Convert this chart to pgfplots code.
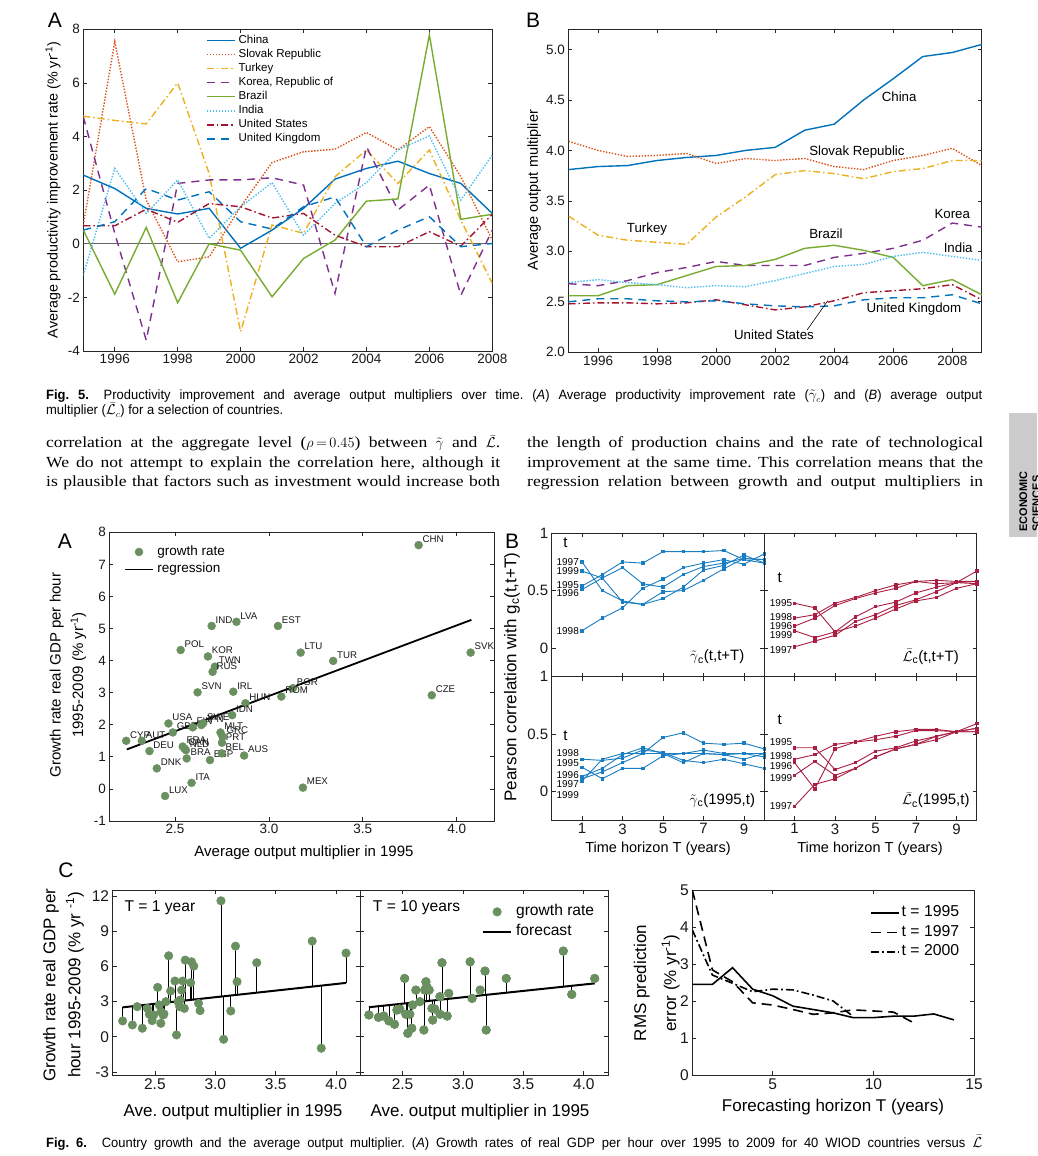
\documentclass[border=0pt]{standalone}
\usepackage{fontspec}
\setmainfont{Liberation Sans}
\newfontfamily\seriffont[FakeStretch=1.14]{Liberation Serif}
\newfontfamily\capfont[FakeStretch=0.96]{Liberation Sans}
\usepackage{pgfplots}
\usepackage{pgfplotstable}
\pgfplotsset{compat=1.18}
\newcommand\fs[1]{\fontsize{#1}{#1}\selectfont}
\definecolor{cBlue}{RGB}{0,114,189}
\definecolor{cOrange}{RGB}{217,83,25}
\definecolor{cYellow}{RGB}{237,177,32}
\definecolor{cPurple}{RGB}{126,47,142}
\definecolor{cGreen}{RGB}{119,172,48}
\definecolor{cCyan}{RGB}{77,190,238}
\definecolor{cRed}{RGB}{162,20,47}
\definecolor{gmark}{RGB}{106,143,96}
\definecolor{bB}{RGB}{25,125,195}
\definecolor{rR}{RGB}{170,30,65}
\definecolor{sidegray}{RGB}{204,204,204}

\pgfplotsset{
  base/.style={scale only axis, anchor=north west,
    axis line style={black!85,line width=0.8pt},
    every tick/.style={black!85,line width=0.7pt},
    major tick length=4pt, minor tick length=0pt,
    tick label style={font=\fs{13.5}, text=black!90},
    /pgf/number format/assume math mode=true,
    /pgf/number format/1000 sep={}},
  limg/.style={legend image code/.code={\draw[##1] (0pt,0pt) -- (28pt,0pt);}},
  mimg/.style={legend image code/.code={\draw[##1] plot coordinates {(14pt,0pt)};}},
  sChina/.style={cBlue, solid},
  sSlovak/.style={cOrange, dash pattern=on 1.4pt off 1.6pt},
  sTurkey/.style={cYellow, dash pattern=on 7pt off 3pt on 1.5pt off 3pt},
  sKorea/.style={cPurple, dash pattern=on 8pt off 6pt},
  sBrazil/.style={cGreen, solid},
  sIndia/.style={cCyan, dash pattern=on 1.4pt off 1.6pt},
  sUS/.style={cRed, dash pattern=on 7pt off 3pt on 1.5pt off 3pt},
  sUK/.style={cBlue, dash pattern=on 8pt off 6pt},
  pB/.style={base, width=212.5pt, height=143.3pt, xmin=-0.5, xmax=10,
    ymin=-0.25, ymax=1, xtick={1,3,5,7,9}, ytick={0,0.5,1},
    tick label style={font=\fs{15}},
    every axis plot/.append style={line width=0.9pt, mark=square*, mark size=1.25pt, mark options={solid}}},
}

\pgfplotstableread{
yr China Slovak Turkey Korea Brazil India US UK
1995 2.56 0.70 4.76 4.74 0.51 -1.17 0.67 0.51
1996 2.06 7.54 4.60 0.39 -1.88 2.81 0.67 0.82
1997 1.32 1.63 4.47 -3.60 0.61 1.13 1.29 2.06
1998 1.11 -0.67 6.00 2.25 -2.20 2.38 0.80 1.63
1999 1.32 -0.49 2.62 2.38 0.00 0.20 1.50 1.94
2000 -0.17 1.38 -3.28 2.38 -0.24 1.38 1.38 0.82
2001 0.51 3.03 0.70 2.46 -1.98 2.28 0.96 0.55
2002 1.32 3.43 0.39 2.19 -0.55 0.32 1.13 1.38
2003 2.41 3.53 2.50 -1.85 0.14 1.50 0.32 1.75
2004 2.81 4.15 3.50 3.62 1.59 2.28 -0.11 -0.11
2005 3.08 3.50 2.25 1.26 1.67 3.50 -0.11 0.51
2006 2.62 4.37 3.50 2.19 7.79 4.02 0.45 1.01
2007 2.25 2.50 0.88 -1.92 0.91 1.63 -0.09 -0.11
2008 1.13 0.14 -1.48 0.51 1.10 3.31 1.10 0.01
}\fiveA

\pgfplotstableread{
yr China Slovak Turkey Korea Brazil India US UK
1995 3.81 4.09 3.35 2.68 2.56 2.69 2.48 2.50
1996 3.84 4.00 3.16 2.66 2.56 2.72 2.49 2.53
1997 3.85 3.94 3.11 2.71 2.66 2.69 2.49 2.53
1998 3.90 3.95 3.09 2.79 2.67 2.67 2.48 2.51
1999 3.93 3.97 3.07 2.84 2.76 2.64 2.49 2.50
2000 3.95 3.87 3.34 2.90 2.85 2.66 2.52 2.51
2001 4.00 3.92 3.54 2.86 2.86 2.65 2.47 2.48
2002 4.03 3.90 3.76 2.86 2.92 2.71 2.42 2.46
2003 4.20 3.92 3.80 2.86 3.03 2.78 2.45 2.45
2004 4.26 3.84 3.77 2.94 3.06 2.85 2.51 2.46
2005 4.50 3.81 3.72 2.98 3.01 2.87 2.59 2.52
2006 4.71 3.90 3.79 3.03 2.94 2.95 2.61 2.54
2007 4.93 3.95 3.82 3.11 2.66 2.99 2.63 2.54
2008 4.97 4.02 3.90 3.28 2.72 2.95 2.67 2.57
2009 5.05 3.85 3.90 3.24 2.57 2.91 2.52 2.48
}\fiveB

\pgfplotstableread{
x y lab
3.797 7.60 CHN
2.695 5.08 IND
2.827 5.21 LVA
3.048 5.08 EST
2.530 4.33 POL
2.675 4.13 KOR
2.712 3.81 TWN
2.700 3.65 RUS
3.169 4.25 LTU
3.342 3.99 TUR
4.074 4.25 SVK
2.620 3.01 SVN
2.810 3.03 IRL
3.128 3.14 BGR
3.066 2.88 ROM
3.867 2.92 CZE
2.875 2.67 HUN
2.804 2.30 IDN
2.465 2.04 USA
2.488 1.76 GBR
2.594 1.92 FIN
2.640 1.99 JPN
2.650 2.05 SWE
2.240 1.50 CYP
2.323 1.50 AUT
2.364 1.18 DEU
2.403 0.64 DNK
2.447 -0.22 LUX
2.588 0.19 ITA
2.562 0.95 BRA
2.686 0.90 ESP
2.748 1.11 BEL
2.868 1.04 AUS
2.750 1.44 PRT
2.742 1.76 MLT
2.753 1.63 GRC
2.541 1.32 FRA
2.558 1.21 NLD
2.550 1.26 CAN
3.181 0.04 MEX
}\sixA

\pgfplotstableread{
T a b c d e
1 0.54 0.51 0.75 0.15 0.67
2 0.64 0.61 0.50 0.26 0.61
3 0.75 0.70 0.41 0.35 0.40
4 0.74 0.56 0.38 0.52 0.38
5 0.84 0.53 0.49 0.60 0.43
6 0.84 0.64 0.50 0.70 0.53
7 0.84 0.71 0.59 0.74 0.68
8 0.85 0.74 0.69 0.77 0.72
9 0.77 0.78 0.78 0.73 0.81
10 0.74 0.77 0.77 0.82 0.74
}\sixBtl

\pgfplotstableread{
T a b c d e
1 0.39 0.19 0.01 0.26 0.15
2 0.35 0.26 0.06 0.29 0.09
3 0.14 0.37 0.11 0.39 0.14
4 0.19 0.43 0.23 0.44 0.27
5 0.26 0.48 0.29 0.50 0.36
6 0.34 0.52 0.37 0.55 0.40
7 0.41 0.58 0.42 0.58 0.48
8 0.44 0.56 0.49 0.59 0.53
9 0.52 0.57 0.57 0.58 0.57
10 0.56 0.67 0.58 0.58 0.56
}\sixBtr

\pgfplotstableread{
T a b c d e
1 0.21 0.13 0.11 0.28 0.09
2 0.11 0.20 0.17 0.27 0.28
3 0.20 0.32 0.25 0.29 0.33
4 0.20 0.38 0.33 0.36 0.33
5 0.31 0.33 0.47 0.34 0.33
6 0.33 0.25 0.51 0.27 0.33
7 0.36 0.33 0.42 0.25 0.33
8 0.33 0.32 0.41 0.28 0.32
9 0.33 0.33 0.42 0.24 0.28
10 0.33 0.30 0.37 0.20 0.33
}\sixBbl

\pgfplotstableread{
T a b c d e
1 0.38 0.25 -0.13 0.28 0.14
2 0.38 0.02 0.06 0.32 0.26
3 0.19 0.37 0.11 0.41 0.14
4 0.25 0.43 0.20 0.43 0.20
5 0.35 0.45 0.30 0.48 0.30
6 0.38 0.48 0.37 0.52 0.37
7 0.44 0.53 0.41 0.54 0.41
8 0.48 0.53 0.45 0.54 0.48
9 0.52 0.52 0.52 0.52 0.52
10 0.55 0.52 0.52 0.59 0.55
}\sixBbr

\pgfplotstableread{
x y
2.233 1.35
2.314 1.01
2.354 2.57
2.396 0.73
2.438 2.42
2.454 1.92
2.477 1.38
2.490 1.86
2.523 4.21
2.536 2.71
2.549 1.15
2.550 2.14
2.568 1.86
2.575 1.95
2.591 2.99
2.614 6.90
2.630 3.90
2.666 4.75
2.679 0.16
2.692 2.99
2.705 2.57
2.710 3.13
2.721 3.98
2.731 4.75
2.744 2.42
2.751 6.53
2.796 4.61
2.803 6.39
2.822 6.02
2.861 2.85
2.874 2.23
3.047 11.58
3.069 -0.21
3.128 2.20
3.167 7.72
3.180 4.69
3.343 6.31
3.802 8.15
3.877 -0.97
4.082 7.13
}\sixCa

\pgfplotstableread{
x y
2.221 1.86
2.300 1.66
2.344 1.77
2.387 1.35
2.433 1.07
2.453 2.28
2.477 2.37
2.517 4.97
2.527 1.92
2.543 0.30
2.560 1.92
2.576 0.73
2.583 2.71
2.610 3.98
2.643 2.99
2.676 0.58
2.683 3.98
2.693 4.69
2.700 4.27
2.720 3.98
2.743 2.42
2.749 1.43
2.766 2.37
2.809 3.42
2.810 1.92
2.826 6.31
2.869 1.77
2.882 3.70
3.059 6.39
3.075 3.27
3.142 3.98
3.182 5.60
3.192 0.58
3.358 4.97
3.830 7.30
3.900 3.61
4.090 4.97
}\sixCb

\begin{document}
\frenchspacing
\begin{tikzpicture}
\fill[white] (0pt,0pt) rectangle (1037pt,1156pt);
\path[use as bounding box] (0pt,0pt) rectangle (1037pt,1156pt);

% ---------------- Fig 5A
\begin{axis}[base, at={(83.3pt,1126.7pt)}, width=409pt, height=321.7pt,
  xmin=1995, xmax=2008, ymin=-4, ymax=8,
  xtick={1996,1998,...,2008}, ytick={-4,-2,...,8},
  legend style={at={(0.30,0.988)}, anchor=north west, draw=none, fill=none,
    font=\fs{11.5}, inner sep=0pt, row sep=0pt,
    nodes={inner sep=1.3pt, text height=8.6pt, text depth=2.9pt},
    /tikz/every odd column/.append style={column sep=1.7pt}},
  legend cell align=left, limg,
  every axis plot/.append style={line width=1.4pt}]
\addplot[forget plot, black!60, line width=0.9pt, solid] coordinates {(1995,0) (2008,0)};
\addplot[sChina] table[x=yr,y=China] \fiveA; \addlegendentry{China}
\addplot[sSlovak] table[x=yr,y=Slovak] \fiveA; \addlegendentry{Slovak Republic}
\addplot[sTurkey] table[x=yr,y=Turkey] \fiveA; \addlegendentry{Turkey}
\addplot[sKorea] table[x=yr,y=Korea] \fiveA; \addlegendentry{Korea, Republic of}
\addplot[sBrazil] table[x=yr,y=Brazil] \fiveA; \addlegendentry{Brazil}
\addplot[sIndia] table[x=yr,y=India] \fiveA; \addlegendentry{India}
\addplot[sUS] table[x=yr,y=US] \fiveA; \addlegendentry{United States}
\addplot[sUK] table[x=yr,y=UK] \fiveA; \addlegendentry{United Kingdom}
\end{axis}

% ---------------- Fig 5B
\begin{axis}[base, at={(568.5pt,1126.7pt)}, width=413.3pt, height=323pt,
  xmin=1995, xmax=2009, ymin=2, ymax=5.2,
  xtick={1996,1998,...,2008}, ytick={2,2.5,...,5},
  yticklabel style={/pgf/number format/.cd, fixed, fixed zerofill, precision=1},
  every axis plot/.append style={line width=1.4pt}]
\addplot[sChina] table[x=yr,y=China] \fiveB;
\addplot[sSlovak] table[x=yr,y=Slovak] \fiveB;
\addplot[sTurkey] table[x=yr,y=Turkey] \fiveB;
\addplot[sKorea] table[x=yr,y=Korea] \fiveB;
\addplot[sBrazil] table[x=yr,y=Brazil] \fiveB;
\addplot[sIndia] table[x=yr,y=India] \fiveB;
\addplot[sUS] table[x=yr,y=US] \fiveB;
\addplot[sUK] table[x=yr,y=UK] \fiveB;
\begin{scope}[every node/.style={font=\fs{13.3}, inner sep=0pt}]
\node at (axis cs:2006.2,4.53) {China};
\node at (axis cs:2004.77,3.98) {Slovak Republic};
\node at (axis cs:1997.66,3.22) {Turkey};
\node at (axis cs:2003.72,3.17) {Brazil};
\node at (axis cs:2008.0,3.37) {Korea};
\node at (axis cs:2008.2,3.04) {India};
\node at (axis cs:2006.7,2.43) {United Kingdom};
\node at (axis cs:2001.96,2.17) {United States};
\end{scope}
\draw[black, line width=0.6pt] (axis cs:2003.08,2.22) -- (axis cs:2003.78,2.51);
\end{axis}

% ---------------- Fig 6A
\begin{axis}[base, at={(109.3pt,623.7pt)}, width=385pt, height=288.7pt,
  xmin=2.15, xmax=4.2, ymin=-1, ymax=8, clip=false,
  xtick={2.5,3,3.5,4}, ytick={-1,0,...,8},
  xticklabel style={/pgf/number format/.cd, fixed, fixed zerofill, precision=1},
  legend style={at={(0.038,0.963)}, anchor=north west, draw=none, fill=none,
    font=\fs{13.5}, inner sep=0pt, row sep=0pt,
    nodes={inner sep=2.05pt, text height=10.1pt, text depth=3.4pt},
    /tikz/every odd column/.append style={column sep=1.5pt}},
  legend cell align=left]
\addplot[only marks, mark=*, mark size=4pt, color=gmark,
  point meta=explicit symbolic,
  nodes near coords={\makebox[0pt][l]{\pgfplotspointmeta}},
  every node near coord/.append style={font=\fs{9.7}, text=black!90, xshift=4pt, yshift=2.5pt, inner sep=0pt},
  mimg]
  table[x=x,y=y,meta=lab] \sixA;
\addlegendentry{growth rate}
\addplot[black, line width=1.8pt, limg]
  coordinates {(2.243,1.23) (4.078,5.27)};
\addlegendentry{regression}
\end{axis}

% ---------------- Fig 6B
\begin{axis}[pB, at={(551.7pt,622.7pt)}, xticklabels={}]
\addplot[bB] table[x=T,y=a] \sixBtl;
\addplot[bB] table[x=T,y=b] \sixBtl;
\addplot[bB] table[x=T,y=c] \sixBtl;
\addplot[bB] table[x=T,y=d] \sixBtl;
\addplot[bB] table[x=T,y=e] \sixBtl;
\begin{scope}[every node/.style={font=\fs{10}, inner sep=0pt, anchor=east}]
\node at (axis cs:0.85,0.753) {1997};
\node at (axis cs:0.85,0.672) {1999};
\node at (axis cs:0.85,0.549) {1995};
\node at (axis cs:0.85,0.476) {1996};
\node at (axis cs:0.85,0.149) {1998};
\end{scope}
\node[font=\fs{15}] at (axis cs:0.175,0.914) {t};
\node[font=\fs{15}] at (axis cs:7.68,-0.079) {$\tilde{\gamma}$\textsubscript{c}(t,t+T)};
\end{axis}
\begin{axis}[pB, at={(764.2pt,622.7pt)}, xticklabels={}, yticklabels={}]
\addplot[rR] table[x=T,y=a] \sixBtr;
\addplot[rR] table[x=T,y=b] \sixBtr;
\addplot[rR] table[x=T,y=c] \sixBtr;
\addplot[rR] table[x=T,y=d] \sixBtr;
\addplot[rR] table[x=T,y=e] \sixBtr;
\begin{scope}[every node/.style={font=\fs{10}, inner sep=0pt, anchor=east}]
\node at (axis cs:0.89,0.394) {1995};
\node at (axis cs:0.89,0.272) {1998};
\node at (axis cs:0.89,0.190) {1996};
\node at (axis cs:0.89,0.111) {1999};
\node at (axis cs:0.89,-0.015) {1997};
\end{scope}
\node[font=\fs{15}] at (axis cs:0.26,0.616) {t};
\node[font=\fs{15}] at (axis cs:7.73,-0.079) {$\bar{\mathcal{L}}$\textsubscript{c}(t,t+T)};
\end{axis}
\begin{axis}[pB, at={(551.7pt,479.3pt)}]
\addplot[bB] table[x=T,y=a] \sixBbl;
\addplot[bB] table[x=T,y=b] \sixBbl;
\addplot[bB] table[x=T,y=c] \sixBbl;
\addplot[bB] table[x=T,y=d] \sixBbl;
\addplot[bB] table[x=T,y=e] \sixBbl;
\begin{scope}[every node/.style={font=\fs{10}, inner sep=0pt, anchor=east}]
\node at (axis cs:0.85,0.338) {1998};
\node at (axis cs:0.85,0.251) {1995};
\node at (axis cs:0.85,0.145) {1996};
\node at (axis cs:0.85,0.066) {1997};
\node at (axis cs:0.85,-0.029) {1999};
\end{scope}
\node[font=\fs{15}] at (axis cs:0.175,0.483) {t};
\node[font=\fs{15}] at (axis cs:7.93,-0.081) {$\tilde{\gamma}$\textsubscript{c}(1995,t)};
\end{axis}
\begin{axis}[pB, at={(764.2pt,479.3pt)}, yticklabels={}]
\addplot[rR] table[x=T,y=a] \sixBbr;
\addplot[rR] table[x=T,y=b] \sixBbr;
\addplot[rR] table[x=T,y=c] \sixBbr;
\addplot[rR] table[x=T,y=d] \sixBbr;
\addplot[rR] table[x=T,y=e] \sixBbr;
\begin{scope}[every node/.style={font=\fs{10}, inner sep=0pt, anchor=east}]
\node at (axis cs:0.89,0.428) {1995};
\node at (axis cs:0.89,0.309) {1998};
\node at (axis cs:0.89,0.223) {1996};
\node at (axis cs:0.89,0.116) {1999};
\node at (axis cs:0.89,-0.130) {1997};
\end{scope}
\node[font=\fs{15}] at (axis cs:0.26,0.621) {t};
\node[font=\fs{15}] at (axis cs:7.98,-0.081) {$\bar{\mathcal{L}}$\textsubscript{c}(1995,t)};
\end{axis}

% ---------------- Fig 6C left
\begin{axis}[base, at={(112.6pt,266pt)}, width=247.7pt, height=185pt,
  xmin=2.15, xmax=4.2, ymin=-3.25, ymax=12.5, unbounded coords=jump,
  xtick={2.5,3,3.5,4}, ytick={-3,0,...,12}, tick label style={font=\fs{15.5}},
  xticklabel style={/pgf/number format/.cd, fixed, fixed zerofill, precision=1}]
\addplot[black, line width=0.6pt] coordinates {
(2.233,1.35) (2.233,2.51) (2.233,nan)
(2.314,1.01) (2.314,2.60) (2.314,nan)
(2.354,2.57) (2.354,2.64) (2.354,nan)
(2.396,0.73) (2.396,2.69) (2.396,nan)
(2.438,2.42) (2.438,2.74) (2.438,nan)
(2.454,1.92) (2.454,2.76) (2.454,nan)
(2.477,1.38) (2.477,2.78) (2.477,nan)
(2.490,1.86) (2.490,2.80) (2.490,nan)
(2.523,4.21) (2.523,2.83) (2.523,nan)
(2.536,2.71) (2.536,2.85) (2.536,nan)
(2.549,1.15) (2.549,2.86) (2.549,nan)
(2.550,2.14) (2.550,2.87) (2.550,nan)
(2.568,1.86) (2.568,2.89) (2.568,nan)
(2.575,1.95) (2.575,2.89) (2.575,nan)
(2.591,2.99) (2.591,2.91) (2.591,nan)
(2.614,6.90) (2.614,2.94) (2.614,nan)
(2.630,3.90) (2.630,2.96) (2.630,nan)
(2.666,4.75) (2.666,3.00) (2.666,nan)
(2.679,0.16) (2.679,3.01) (2.679,nan)
(2.692,2.99) (2.692,3.02) (2.692,nan)
(2.705,2.57) (2.705,3.04) (2.705,nan)
(2.710,3.13) (2.710,3.05) (2.710,nan)
(2.721,3.98) (2.721,3.06) (2.721,nan)
(2.731,4.75) (2.731,3.07) (2.731,nan)
(2.744,2.42) (2.744,3.08) (2.744,nan)
(2.751,6.53) (2.751,3.09) (2.751,nan)
(2.796,4.61) (2.796,3.14) (2.796,nan)
(2.803,6.39) (2.803,3.15) (2.803,nan)
(2.822,6.02) (2.822,3.17) (2.822,nan)
(2.861,2.85) (2.861,3.22) (2.861,nan)
(2.874,2.23) (2.874,3.23) (2.874,nan)
(3.047,11.58) (3.047,3.43) (3.047,nan)
(3.069,-0.21) (3.069,3.45) (3.069,nan)
(3.128,2.20) (3.128,3.52) (3.128,nan)
(3.167,7.72) (3.167,3.56) (3.167,nan)
(3.180,4.69) (3.180,3.57) (3.180,nan)
(3.343,6.31) (3.343,3.76) (3.343,nan)
(3.802,8.15) (3.802,4.28) (3.802,nan)
(3.877,-0.97) (3.877,4.36) (3.877,nan)
(4.082,7.13) (4.082,4.59) (4.082,nan)
};
\addplot[black, line width=2pt] coordinates {(2.233,2.51) (4.082,4.59)};
\addplot[only marks, mark=*, mark size=4.3pt, color=gmark] table[x=x,y=y] \sixCa;
\node[font=\fs{15.6}] at (rel axis cs:0.191,0.903) {T = 1 year};
\end{axis}

% ---------------- Fig 6C middle
\begin{axis}[base, at={(360.3pt,266pt)}, width=247.7pt, height=185pt,
  xmin=2.15, xmax=4.2, ymin=-3.25, ymax=12.5, unbounded coords=jump,
  xtick={2.5,3,3.5,4}, ytick={-3,0,...,12}, yticklabels={}, tick label style={font=\fs{15.5}},
  xticklabel style={/pgf/number format/.cd, fixed, fixed zerofill, precision=1},
  legend style={at={(0.491,0.937)}, anchor=north west, draw=none, fill=none,
    font=\fs{15.6}, inner sep=0pt, row sep=0pt,
    nodes={inner sep=2.2pt, text height=11.7pt, text depth=3.9pt},
    /tikz/every odd column/.append style={column sep=1.8pt}},
  legend cell align=left]
\addplot[forget plot, black, line width=0.6pt] coordinates {
(2.221,1.86) (2.221,2.52) (2.221,nan)
(2.300,1.66) (2.300,2.61) (2.300,nan)
(2.344,1.77) (2.344,2.65) (2.344,nan)
(2.387,1.35) (2.387,2.70) (2.387,nan)
(2.433,1.07) (2.433,2.75) (2.433,nan)
(2.453,2.28) (2.453,2.77) (2.453,nan)
(2.477,2.37) (2.477,2.80) (2.477,nan)
(2.517,4.97) (2.517,2.84) (2.517,nan)
(2.527,1.92) (2.527,2.85) (2.527,nan)
(2.543,0.30) (2.543,2.87) (2.543,nan)
(2.560,1.92) (2.560,2.89) (2.560,nan)
(2.576,0.73) (2.576,2.91) (2.576,nan)
(2.583,2.71) (2.583,2.91) (2.583,nan)
(2.610,3.98) (2.610,2.94) (2.610,nan)
(2.643,2.99) (2.643,2.98) (2.643,nan)
(2.676,0.58) (2.676,3.02) (2.676,nan)
(2.683,3.98) (2.683,3.02) (2.683,nan)
(2.693,4.69) (2.693,3.03) (2.693,nan)
(2.700,4.27) (2.700,3.04) (2.700,nan)
(2.720,3.98) (2.720,3.06) (2.720,nan)
(2.743,2.42) (2.743,3.09) (2.743,nan)
(2.749,1.43) (2.749,3.09) (2.749,nan)
(2.766,2.37) (2.766,3.11) (2.766,nan)
(2.809,3.42) (2.809,3.16) (2.809,nan)
(2.810,1.92) (2.810,3.16) (2.810,nan)
(2.826,6.31) (2.826,3.18) (2.826,nan)
(2.869,1.77) (2.869,3.22) (2.869,nan)
(2.882,3.70) (2.882,3.24) (2.882,nan)
(3.059,6.39) (3.059,3.43) (3.059,nan)
(3.075,3.27) (3.075,3.45) (3.075,nan)
(3.142,3.98) (3.142,3.52) (3.142,nan)
(3.182,5.60) (3.182,3.56) (3.182,nan)
(3.192,0.58) (3.192,3.57) (3.192,nan)
(3.358,4.97) (3.358,3.76) (3.358,nan)
(3.830,7.30) (3.830,4.27) (3.830,nan)
(3.900,3.61) (3.900,4.34) (3.900,nan)
(4.090,4.97) (4.090,4.55) (4.090,nan)
};
\addplot[only marks, mark=*, mark size=4.3pt, color=gmark, mimg] table[x=x,y=y] \sixCb;
\addlegendentry{growth rate}
\addplot[black, line width=2pt, limg] coordinates {(2.221,2.52) (4.090,4.55)};
\addlegendentry{forecast}
\addplot[forget plot, only marks, mark=*, mark size=4.3pt, color=gmark] table[x=x,y=y] \sixCb;
\node[font=\fs{15.6}] at (rel axis cs:0.227,0.903) {T = 10 years};
\end{axis}

% ---------------- Fig 6C right
\begin{axis}[base, at={(692.3pt,266pt)}, width=281.7pt, height=185pt,
  xmin=1, xmax=15, ymin=0, ymax=5,
  xtick={5,10,15}, ytick={0,1,...,5}, tick label style={font=\fs{15.5}},
  legend style={at={(0.631,0.93)}, anchor=north west, draw=none, fill=none,
    font=\fs{15.8}, inner sep=0pt, row sep=0pt,
    nodes={inner sep=1.85pt, text height=11.85pt, text depth=3.95pt},
    /tikz/every odd column/.append style={column sep=0pt}},
  legend cell align=left, limg,
  every axis plot/.append style={line width=1.6pt, black}]
\addplot[solid] coordinates {(1,2.45) (2,2.45) (3,2.90) (4,2.32) (5,2.14) (6,1.86) (7,1.77) (8,1.68) (9,1.55) (10,1.55) (11,1.59) (12,1.59) (13,1.65) (14,1.49)};
\addlegendentry{t = 1995}
\addplot[dash pattern=on 10pt off 6pt] coordinates {(1,5.0) (2,2.84) (3,2.52) (4,1.95) (5,1.89) (6,1.77) (7,1.64) (8,1.68) (9,1.76) (10,1.73) (11,1.70) (12,1.41)};
\addlegendentry{t = 1997}
\addplot[dash pattern=on 8pt off 3pt on 1.8pt off 3pt] coordinates {(1,3.92) (2,2.70) (3,2.48) (4,2.25) (5,2.32) (6,2.30) (7,2.16) (8,2.00) (9,1.58)};
\addlegendentry{t = 2000}
\end{axis}

% ---------------- axis labels (figure text)
\node[rotate=90, font=\fs{14.3}] at (53pt,966pt) {Average productivity improvement rate (\% yr\textsuperscript{-1})};
\node[rotate=90, font=\fs{14.5}] at (534pt,966pt) {Average output multiplier};
\node[rotate=90, align=center, font=\fontsize{15}{22.3}\selectfont] at (68pt,481pt) {Growth rate real GDP per hour\\1995-2009 (\% yr\textsuperscript{-1})};
\node[font=\fs{15}] at (304pt,303pt) {Average output multiplier in 1995};
\node[rotate=90, font=\fs{17}] at (512pt,479pt) {Pearson correlation with g\textsubscript{c}(t,t+T)};
\node[font=\fs{14.5}] at (658pt,307pt) {Time horizon T (years)};
\node[font=\fs{14.5}] at (870pt,307pt) {Time horizon T (years)};
\node[rotate=90, align=center, font=\fontsize{17}{25}\selectfont] at (63.5pt,171pt) {Growth rate real GDP per\\hour 1995-2009 (\% yr \textsuperscript{-1})};
\node[font=\fs{17}] at (233pt,44pt) {Ave. output multiplier in 1995};
\node[font=\fs{17}] at (480pt,44pt) {Ave. output multiplier in 1995};
\node[rotate=90, align=center, font=\fontsize{17}{30}\selectfont] at (656.7pt,173pt) {RMS prediction\\error (\% yr\textsuperscript{-1})};
\node[font=\fs{17}] at (833pt,49pt) {Forecasting horizon T (years)};

% panel letters
\node[font=\fs{21}] at (55pt,1136pt) {A};
\node[font=\fs{21}] at (533pt,1136pt) {B};
\node[font=\fs{21}] at (65pt,614.3pt) {A};
\node[font=\fs{21}] at (512pt,615pt) {B};
\node[font=\fs{21}] at (66pt,286pt) {C};

% captions and body text
\node[anchor=base west, inner sep=0pt, font=\capfont\fs{13.5}] at (46pt,756pt) {\makebox[936pt][s]{\textbf{Fig. 5.}\hspace{1.1em}Productivity improvement and average output multipliers over time. (\textit{A}) Average productivity improvement rate ($\tilde{\gamma}_c$) and (\textit{B}) average output}};
\node[anchor=base west, inner sep=0pt, font=\capfont\fs{13.5}] at (46pt,741pt) {multiplier ($\bar{\mathcal{L}}_c$) for a selection of countries.};
\begin{scope}[every node/.style={anchor=base west, inner sep=0pt, font=\seriffont\fs{15.4}}]
\node at (46pt,708pt) {\makebox[454pt][s]{correlation at the aggregate level ($\rho\,{=}\,0.45$) between $\tilde{\gamma}$ and $\bar{\mathcal{L}}$.}};
\node at (46pt,688.5pt) {\makebox[454pt][s]{We do not attempt to explain the correlation here, although it}};
\node at (46pt,669pt) {\makebox[454pt][s]{is plausible that factors such as investment would increase both}};
\node at (527pt,708pt) {\makebox[456pt][s]{the length of production chains and the rate of technological}};
\node at (527pt,688.5pt) {\makebox[456pt][s]{improvement at the same time. This correlation means that the}};
\node at (527pt,669pt) {\makebox[456pt][s]{regression relation between growth and output multipliers in}};
\end{scope}
\node[anchor=base west, inner sep=0pt, font=\capfont\fs{13.5}] at (46pt,9pt) {\makebox[936pt][s]{\textbf{Fig. 6.}\hspace{1.1em}Country growth and the average output multiplier. (\textit{A}) Growth rates of real GDP per hour over 1995 to 2009 for 40 WIOD countries versus $\bar{\mathcal{L}}$}};

% sidebar
\fill[sidegray] (1009pt,619pt) rectangle (1037pt,743pt);
\node[rotate=90, anchor=base west, inner sep=0pt, font=\bfseries\fs{11}] at (1027pt,624pt) {ECONOMIC};
\node[rotate=90, anchor=base west, inner sep=0pt, font=\bfseries\fs{11}] at (1040pt,624pt) {SCIENCES};
\end{tikzpicture}
\end{document}
